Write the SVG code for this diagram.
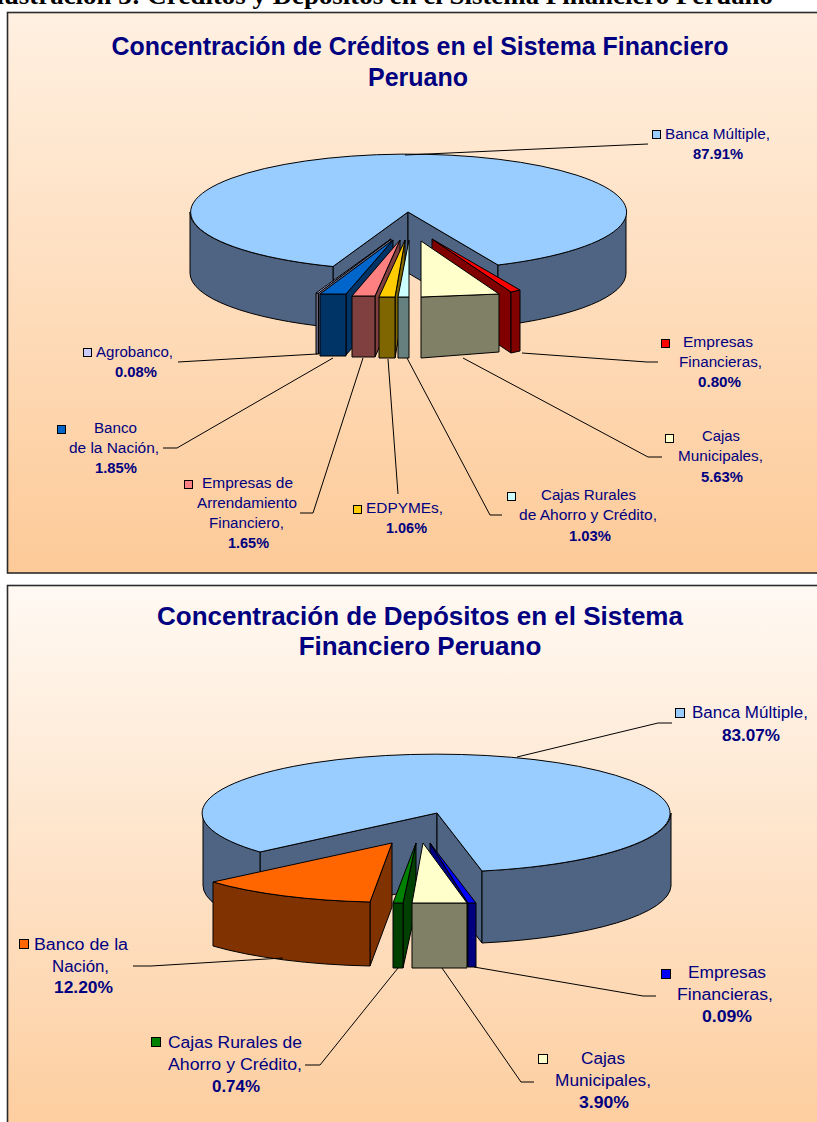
<svg xmlns="http://www.w3.org/2000/svg" width="817" height="1122" viewBox="0 0 817 1122">
<defs>
<linearGradient id="bg1" x1="0" y1="0" x2="0" y2="1">
<stop offset="0" stop-color="#FFF0E1"/>
<stop offset="1" stop-color="#FDCA98"/>
</linearGradient>
<linearGradient id="bg2" x1="0" y1="0" x2="0" y2="1">
<stop offset="0" stop-color="#FFF9F3"/>
<stop offset="1" stop-color="#FDCC9C"/>
</linearGradient>
<style>
.frame{stroke:#2b2b2b;stroke-width:1.6}
.pie path,.pie polygon{stroke:#000;stroke-width:1;stroke-linejoin:round}
.lead{fill:none;stroke:#000;stroke-width:1}
.lbl{font-family:"Liberation Sans",Arial,sans-serif;fill:#000080}
.l1{font-size:14px}
.l2{font-size:16px}
.pct{font-weight:bold}
.ttl{font-family:"Liberation Sans",Arial,sans-serif;font-weight:bold;fill:#000080;text-anchor:middle}
.sq{stroke:#000;stroke-width:1}
.top{fill:#99CCFF}.side{fill:#4F6482}
</style>
</defs>

<text x="-14" y="4" font-family="'Liberation Serif','Times New Roman',serif" font-weight="bold" font-size="26" textLength="787" lengthAdjust="spacingAndGlyphs">Ilustración 3: Créditos y Depósitos en el Sistema Financiero Peruano</text>

<!-- Chart 1 -->
<rect class="frame" x="7.5" y="12.5" width="815" height="560.5" fill="url(#bg1)"/>
<text class="ttl" x="420" y="55" font-size="25" textLength="617" lengthAdjust="spacingAndGlyphs">Concentración de Créditos en el Sistema Financiero</text>
<text class="ttl" x="418" y="86" font-size="25">Peruano</text>

<g class="pie" id="c1-banca-multiple">
<polygon class="side" points="408,212 333,266.5 333,327.5 408,273"/>
<polygon class="side" points="408,212 498,265 498,326 408,273"/>
<path class="side" d="M190,212 A218,58 0 0 0 333,266.5 L333,327.5 A218,58 0 0 1 190,273 Z"/>
<path class="side" d="M498,265 A218,58 0 0 0 626,212 L626,273 A218,58 0 0 1 498,326 Z"/>
<path class="top" d="M408,212 L498,265 A218,58 0 1 0 333,266.5 Z"/>
</g>
<g class="pie" id="c1-agrobanco">
<polygon fill="#666680" points="391,239 318.5,293 318.5,354 391,300"/>
<polygon fill="#666680" points="316,293 318.5,293 318.5,354 316,354"/>
<polygon fill="#CCCCFF" points="391,239 316,293 318.5,293"/>
</g>
<g class="pie" id="c1-banco-nacion">
<polygon fill="#003366" points="393,240 346,294 346,355 393,301"/>
<polygon fill="#003366" points="320,294 346,294 346,356 320,356"/>
<polygon fill="#0066CC" points="393,240 320,294 346,294"/>
</g>
<g class="pie" id="c1-arrendamiento">
<polygon fill="#804040" points="400,240 375,296 375,357 400,301"/>
<polygon fill="#804040" points="352,296 375,296 375,357 352,357"/>
<polygon fill="#FF8080" points="400,240 352,296 375,296"/>
</g>
<g class="pie" id="c1-edpymes">
<polygon fill="#806600" points="405,240 395,297 395,358 405,301"/>
<polygon fill="#806600" points="379,297 395,297 395,358 379,358"/>
<polygon fill="#FFCC00" points="405,240 379,297 395,297"/>
</g>
<g class="pie" id="c1-cajas-rurales">
<polygon fill="#668080" points="398,297 409,297 409,358 398,358"/>
<polygon fill="#CCFFFF" points="409,240 398,297 409,297"/>
</g>
<g class="pie" id="c1-empresas-financieras">
<polygon fill="#800000" points="432,239 511,292 511,353 432,300"/>
<polygon fill="#800000" points="511,292 520,290 520,351 511,353"/>
<polygon fill="#FF0000" points="432,239 511,292 520,290"/>
</g>
<g class="pie" id="c1-cajas-municipales">
<polygon fill="#808066" points="421,297 499,294 499,352 421,358"/>
<polygon fill="#FFFFCC" points="421,241 421,297 499,294"/>
</g>

<g id="c1-connectors">
<path class="lead" d="M648,144 L405,155"/>
<path class="lead" d="M658,362 L647,362 L522,353"/>
<path class="lead" d="M662,457 L648,457 L463,358"/>
<path class="lead" d="M502,515 L490,515 L407,358"/>
<path class="lead" d="M398,494 L388,359"/>
<path class="lead" d="M300,513 L313,513 L363,358"/>
<path class="lead" d="M163,448 L177,448 L333,358"/>
<path class="lead" d="M178,362 L317,354"/>
</g>

<g id="c1-lbl-banca-multiple" class="lbl l1">
<rect class="sq" x="652.5" y="130.5" width="8" height="8" fill="#99CCFF"/>
<text x="665" y="139" textLength="105" lengthAdjust="spacingAndGlyphs">Banca Múltiple,</text>
<text class="pct" x="693" y="159" textLength="50" lengthAdjust="spacingAndGlyphs">87.91%</text>
</g>
<g id="c1-lbl-empresas-financieras" class="lbl l1">
<rect class="sq" x="661.5" y="339.5" width="8" height="8" fill="#FF0000"/>
<text x="683" y="347" textLength="70" lengthAdjust="spacingAndGlyphs">Empresas</text>
<text x="679" y="367" textLength="83" lengthAdjust="spacingAndGlyphs">Financieras,</text>
<text class="pct" x="698" y="387" textLength="43" lengthAdjust="spacingAndGlyphs">0.80%</text>
</g>
<g id="c1-lbl-cajas-municipales" class="lbl l1">
<rect class="sq" x="665.5" y="434.5" width="8" height="8" fill="#FFFFCC"/>
<text x="702" y="441" textLength="38" lengthAdjust="spacingAndGlyphs">Cajas</text>
<text x="678" y="461" textLength="85" lengthAdjust="spacingAndGlyphs">Municipales,</text>
<text class="pct" x="701" y="482" textLength="42" lengthAdjust="spacingAndGlyphs">5.63%</text>
</g>
<g id="c1-lbl-cajas-rurales" class="lbl l1">
<rect class="sq" x="507.5" y="492.5" width="8" height="8" fill="#CCFFFF"/>
<text x="541" y="500" textLength="95" lengthAdjust="spacingAndGlyphs">Cajas Rurales</text>
<text x="519" y="520" textLength="138" lengthAdjust="spacingAndGlyphs">de Ahorro y Crédito,</text>
<text class="pct" x="569" y="541" textLength="42" lengthAdjust="spacingAndGlyphs">1.03%</text>
</g>
<g id="c1-lbl-edpymes" class="lbl l1">
<rect class="sq" x="353.5" y="505.5" width="8" height="8" fill="#FFCC00"/>
<text x="366" y="513" textLength="77" lengthAdjust="spacingAndGlyphs">EDPYMEs,</text>
<text class="pct" x="386" y="533" textLength="41" lengthAdjust="spacingAndGlyphs">1.06%</text>
</g>
<g id="c1-lbl-arrendamiento" class="lbl l1">
<rect class="sq" x="184.5" y="480.5" width="8" height="8" fill="#FF8080"/>
<text x="202" y="488" textLength="91" lengthAdjust="spacingAndGlyphs">Empresas de</text>
<text x="197" y="508" textLength="100" lengthAdjust="spacingAndGlyphs">Arrendamiento</text>
<text x="209" y="528" textLength="75" lengthAdjust="spacingAndGlyphs">Financiero,</text>
<text class="pct" x="228" y="548" textLength="41" lengthAdjust="spacingAndGlyphs">1.65%</text>
</g>
<g id="c1-lbl-banco-nacion" class="lbl l1">
<rect class="sq" x="57.5" y="425.5" width="8" height="8" fill="#0066CC"/>
<text x="94" y="433" textLength="43" lengthAdjust="spacingAndGlyphs">Banco</text>
<text x="69" y="453" textLength="90" lengthAdjust="spacingAndGlyphs">de la Nación,</text>
<text class="pct" x="95" y="473" textLength="42" lengthAdjust="spacingAndGlyphs">1.85%</text>
</g>
<g id="c1-lbl-agrobanco" class="lbl l1">
<rect class="sq" x="83.5" y="348.5" width="8" height="8" fill="#CCCCFF"/>
<text x="96" y="357" textLength="77" lengthAdjust="spacingAndGlyphs">Agrobanco,</text>
<text class="pct" x="115" y="377" textLength="42" lengthAdjust="spacingAndGlyphs">0.08%</text>
</g>

<!-- Chart 2 -->
<rect class="frame" x="7.5" y="585.5" width="815" height="560" fill="url(#bg2)"/>
<text class="ttl" x="420" y="625" font-size="26">Concentración de Depósitos en el Sistema</text>
<text class="ttl" x="420" y="655" font-size="26">Financiero Peruano</text>

<g class="pie" id="c2-banca-multiple">
<polygon class="side" points="437,813 260,852 260,924 437,885"/>
<polygon class="side" points="437,813 482,871 482,943 437,885"/>
<path class="side" d="M203,813 A234,59 0 0 0 260,852 L260,924 A234,59 0 0 1 203,885 Z"/>
<path class="side" d="M482,871 A234,59 0 0 0 671,813 L671,886 A234,59 0 0 1 482,943 Z"/>
<path class="top" d="M437,813 L482,871 A234,59 0 1 0 260,852 Z"/>
</g>
<g class="pie" id="c2-banco-nacion">
<polygon fill="#803300" points="392,843 370,902 370,966 392,907"/>
<path fill="#803300" d="M213,882 A234,59 0 0 0 370,902 L370,966 A234,59 0 0 1 213,946 Z"/>
<path fill="#FF6600" d="M392,843 L213,882 A234,59 0 0 0 370,902 Z"/>
</g>
<g class="pie" id="c2-cajas-rurales">
<polygon fill="#004000" points="416,843 403,903 403,968 416,908"/>
<polygon fill="#004000" points="393,903 403,903 403,968 393,968"/>
<polygon fill="#008000" points="416,843 393,903 403,903"/>
</g>
<g class="pie" id="c2-empresas-financieras">
<polygon fill="#000080" points="430,843 468,903 468,967 430,907"/>
<polygon fill="#000080" points="468,903 476,903 476,967 468,967"/>
<polygon fill="#0000FF" points="430,843 468,903 476,903"/>
</g>
<g class="pie" id="c2-cajas-municipales">
<polygon fill="#808066" points="412,903 467,903 467,968 412,968"/>
<polygon fill="#FFFFCC" points="423,843 412,903 467,903"/>
</g>

<g id="c2-connectors">
<path class="lead" d="M672,723 L658,723 L517,757"/>
<path class="lead" d="M133,966 L151,966 L283,958"/>
<path class="lead" d="M305,1065 L320,1065 L398,968"/>
<path class="lead" d="M534,1082 L521,1082 L442,968"/>
<path class="lead" d="M656,996 L643,996 L474,967"/>
</g>

<g id="c2-lbl-banca-multiple" class="lbl l2">
<rect class="sq" x="675.5" y="708.5" width="9" height="9" fill="#99CCFF"/>
<text x="692" y="718" textLength="116" lengthAdjust="spacingAndGlyphs">Banca Múltiple,</text>
<text class="pct" x="722" y="741" textLength="58" lengthAdjust="spacingAndGlyphs">83.07%</text>
</g>
<g id="c2-lbl-banco-nacion" class="lbl l2">
<rect class="sq" x="19.5" y="939.5" width="9" height="9" fill="#FF6600"/>
<text x="34" y="950" textLength="94" lengthAdjust="spacingAndGlyphs">Banco de la</text>
<text x="52" y="972" textLength="57" lengthAdjust="spacingAndGlyphs">Nación,</text>
<text class="pct" x="54" y="993" textLength="59" lengthAdjust="spacingAndGlyphs">12.20%</text>
</g>
<g id="c2-lbl-cajas-rurales" class="lbl l2">
<rect class="sq" x="151.5" y="1037.5" width="9" height="9" fill="#008000"/>
<text x="168" y="1048" textLength="134" lengthAdjust="spacingAndGlyphs">Cajas Rurales de</text>
<text x="168" y="1070" textLength="134" lengthAdjust="spacingAndGlyphs">Ahorro y Crédito,</text>
<text class="pct" x="212" y="1092" textLength="48" lengthAdjust="spacingAndGlyphs">0.74%</text>
</g>
<g id="c2-lbl-cajas-municipales" class="lbl l2">
<rect class="sq" x="538.5" y="1054.5" width="9" height="9" fill="#FFFFCC"/>
<text x="581" y="1064" textLength="44" lengthAdjust="spacingAndGlyphs">Cajas</text>
<text x="555" y="1086" textLength="96" lengthAdjust="spacingAndGlyphs">Municipales,</text>
<text class="pct" x="579" y="1108" textLength="50" lengthAdjust="spacingAndGlyphs">3.90%</text>
</g>
<g id="c2-lbl-empresas-financieras" class="lbl l2">
<rect class="sq" x="661.5" y="969.5" width="9" height="9" fill="#0000FF"/>
<text x="688" y="978" textLength="78" lengthAdjust="spacingAndGlyphs">Empresas</text>
<text x="677" y="1000" textLength="96" lengthAdjust="spacingAndGlyphs">Financieras,</text>
<text class="pct" x="702" y="1022" textLength="50" lengthAdjust="spacingAndGlyphs">0.09%</text>
</g>
</svg>
